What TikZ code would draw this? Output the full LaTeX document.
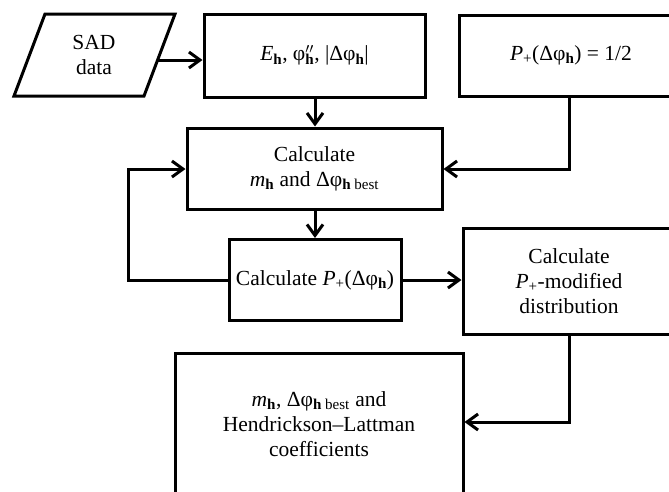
\documentclass[tikz,border=0pt]{standalone}
\usepackage{fontspec}
\setmainfont{Liberation Serif}
\usetikzlibrary{arrows.meta}
\newcommand\sbh{\textsubscript{\textbf{h}}}
\newcommand\supsubx[2]{\rlap{#1}\textsubscript{#2}}
\tikzset{
  lw/.style={line width=3pt},
  boxnode/.style={lw, draw=black, rectangle, align=center, inner sep=0pt,
    font=\fontsize{21.5}{25}\selectfont},
  txt/.style={align=center, inner sep=0pt, font=\fontsize{21.5}{25}\selectfont},
  conn/.style={lw, draw=black, line join=miter, -{Straight Barb[length=11pt,width=16pt]}}
}
\begin{document}
\begin{tikzpicture}[x=1pt,y=-1pt]
\useasboundingbox (0,0) rectangle (669,491);
\clip (0,0) rectangle (669,491);
% SAD parallelogram
\draw[lw, line join=miter] (45,14) -- (175,14) -- (144,96) -- (14,96) -- cycle;
\node[txt] (sad) at (94,55) {SAD\\data};
\coordinate (sadr) at (157.6,60);
% boxes
\node[boxnode, minimum width=221pt, minimum height=83pt] (E) at (314.5,55.5)
  {\textit{E}\sbh, φ\supsubx{$''$}{\textbf{h}}, |Δφ\sbh|};
\node[boxnode, minimum width=224pt, minimum height=81pt] (Ph) at (571,55.5)
  {\textit{P}\textsubscript{+}(Δφ\sbh) = 1/2};
\node[boxnode, minimum width=255pt, minimum height=81pt] (Cm) at (314.5,168.5)
  {Calculate\\\textit{m}\sbh{} and Δφ\textsubscript{\textbf{h} best}};
\node[boxnode, minimum width=172pt, minimum height=81pt] (CP) at (315,280)
  {Calculate \textit{P}\textsubscript{+}(Δφ\sbh)};
\node[boxnode, minimum width=212pt, minimum height=106pt] (Mod) at (569,281)
  {Calculate\\\textit{P}\textsubscript{+}-modified\\distribution};
\node[boxnode, minimum width=288pt, minimum height=142pt] (Fin) at (319,424)
  {\textit{m}\sbh, Δφ\textsubscript{\textbf{h} best} and\\Hendrickson–Lattman\\coefficients};
% connectors
\coordinate (loopb) at (128,280);
\coordinate (loopt) at (128,169);
\coordinate (phc) at (569,169);
\coordinate (modc) at (569,422);
\draw[conn] (sadr) -- (sadr -| E.west);
\draw[conn] (E.south -| 315,0) -- (Cm.north -| 315,0);
\draw[conn] (Ph.south -| phc) -- (phc) -- (phc -| Cm.east);
\draw[conn] (Cm.south -| 315,0) -- (CP.north -| 315,0);
\draw[conn] (CP.west) -- (loopb) -- (loopt) -- (loopt -| Cm.west);
\draw[conn] (CP.east) -- (CP.east -| Mod.west);
\draw[conn] (Mod.south -| modc) -- (modc) -- (modc -| Fin.east);
\end{tikzpicture}
\end{document}
